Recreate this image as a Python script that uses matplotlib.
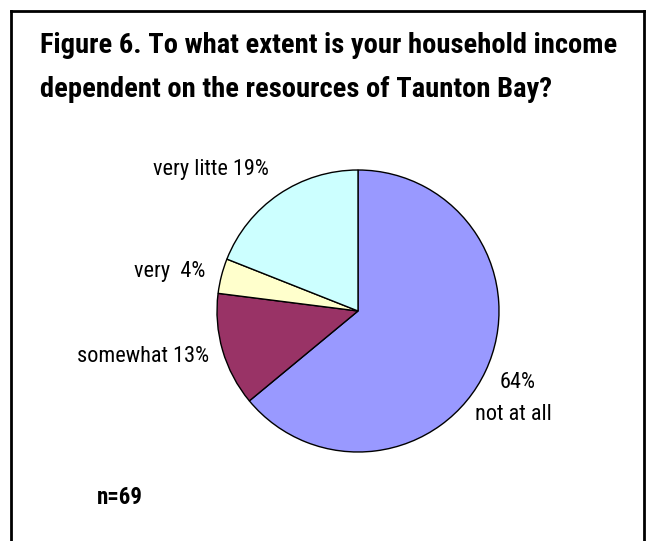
import matplotlib
matplotlib.use("Agg")
import matplotlib.pyplot as plt
from matplotlib.lines import Line2D

categories = ["not at all", "somewhat", "very", "very litte"]
shares = [64, 13, 4, 19]
colors = ["#9999FF", "#993366", "#FFFFCC", "#CCFFFF"]
title = "Figure 6. To what extent is your household income\ndependent on the resources of Taunton Bay?"
n_text = "n=69"

plt.rcParams["font.family"] = ["Roboto Condensed", "Liberation Sans", "DejaVu Sans"]

W, H = 652, 541
fig = plt.figure(figsize=(W / 100, H / 100), dpi=100)
fig.patch.set_facecolor("white")

def fx(px):
    return px / W

def fy(py):
    return 1 - py / H

# frame on left, top and right
for xs, ys in [((11, 11), (H + 5, 11)), ((11, 644), (11, 11)), ((644, 644), (11, H + 5))]:
    fig.add_artist(Line2D([fx(x) for x in xs], [fy(y) for y in ys],
                          color="black", lw=2, transform=fig.transFigure))

# pie
cx, cy, r = 358, 311, 141
ax = fig.add_axes([fx(cx - r), fy(cy + r), 2 * r / W, 2 * r / H])
ax.pie(shares, colors=colors, startangle=90, counterclock=False,
       wedgeprops=dict(edgecolor="black", linewidth=1.0))
ax.set_xlim(-1, 1)
ax.set_ylim(-1, 1)
ax.set_aspect("auto")
ax.axis("off")

fig.text(fx(40), fy(53), title.split("\n")[0], fontsize=20.5, fontweight="bold",
         ha="left", va="baseline")
fig.text(fx(40), fy(97), title.split("\n")[1], fontsize=20.5, fontweight="bold",
         ha="left", va="baseline")

lab = {c: f"{c} {s}%" for c, s in zip(categories, shares)}
fs = 16
fig.text(fx(211), fy(169), lab["very litte"], fontsize=fs, ha="center", va="center")
fig.text(fx(170), fy(272), "very  4%", fontsize=fs, ha="center", va="center")
fig.text(fx(143), fy(357), lab["somewhat"], fontsize=fs, ha="center", va="center")
fig.text(fx(518), fy(383), f"{shares[0]}%", fontsize=fs, ha="center", va="center")
fig.text(fx(513), fy(415), categories[0], fontsize=fs, ha="center", va="center")

fig.text(fx(97), fy(497), n_text, fontsize=16.5, fontweight="bold", ha="left", va="center")

fig.savefig("out.png", dpi=100)
